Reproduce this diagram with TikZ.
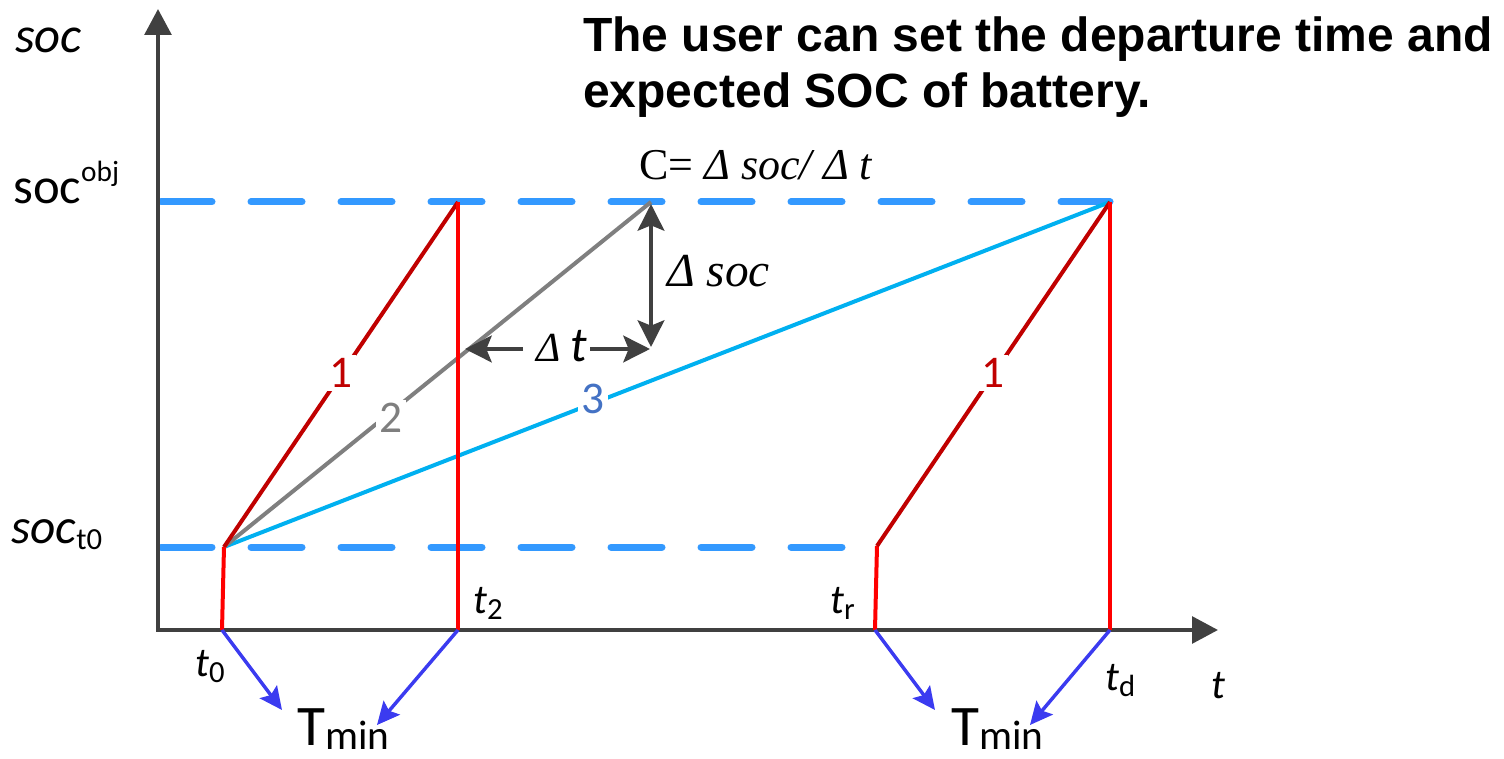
\documentclass[tikz,border=0pt]{standalone}
\usepackage{fontspec}
\setmainfont{Carlito}
\newfontfamily\tnr{Liberation Serif}
\newfontfamily\arialf{Liberation Sans}
\usetikzlibrary{arrows.meta}
\definecolor{axisgray}{HTML}{404040}
\definecolor{dashblue}{HTML}{3399FF}
\definecolor{darkred}{HTML}{C00000}
\definecolor{brightred}{HTML}{FF0000}
\definecolor{midgray}{HTML}{7F7F7F}
\definecolor{cyanline}{HTML}{00B0F0}
\definecolor{numblue}{HTML}{4472C4}
\definecolor{arrowblue}{HTML}{3B3BF0}
\newcommand\fsz[1]{\fontsize{#1}{#1}\selectfont}
\newcommand\tlab[1]{{\itshape t}\raisebox{-5pt}{\fsz{23pt}#1}}
\newcommand\tminlab{T\raisebox{-3pt}{\fsz{31pt}min}}
\begin{document}
\begin{tikzpicture}[x=0.75pt,y=-0.75pt,
  axis/.style={draw=axisgray,line width=3pt,line join=miter,{Triangle[length=19.5pt,width=20pt]}-{Triangle[length=19.5pt,width=20pt]}},
  guide/.style={draw=dashblue,line width=5.25pt,line cap=round,dash pattern=on 38.25pt off 29.25pt},
  ramp/.style={line width=3pt,line join=round},
  bluearrow/.style={draw=arrowblue,line width=2.6pt,-{Stealth[length=17pt,width=16pt,inset=3pt]}},
  dimtip/.style={draw=axisgray,line width=3pt,-{Stealth[length=20pt,width=20pt,inset=4pt]}},
  dimboth/.style={draw=axisgray,line width=3pt,{Stealth[length=20pt,width=20pt,inset=4pt]}-{Stealth[length=20pt,width=20pt,inset=4pt]}},
  lbl/.style={inner sep=0pt,anchor=base west},
  num/.style={fill=white,inner sep=2.5pt,font=\fsz{34pt}},
  tfont/.style={font=\fsz{31pt}},
]
\useasboundingbox (0,0) rectangle (1504,759);
% coordinates
\coordinate (O) at (158,630);
\coordinate (Ytop) at (158,9);
\coordinate (Xend) at (1218,630);
\coordinate (T0b) at (222,630);
\coordinate (A) at (224,547);
\coordinate (T2b) at (458,630);
\coordinate (T2t) at (458,202);
\coordinate (P2) at (651,202);
\coordinate (Trb) at (875,630);
\coordinate (Trt) at (877,546);
\coordinate (Tdb) at (1110,630);
\coordinate (Tdt) at (1110,202);
\coordinate (G1s) at (161,202);
\coordinate (G2s) at (161,547);
\coordinate (G2e) at (850,547);
% guides
\draw[guide] (G1s) -- (Tdt);
\draw[guide] (G2s) -- (G2e);
% axes
\draw[axis] (Ytop) -- (O) -- (Xend);
% ramps
\draw[ramp,draw=cyanline] (A) -- (Tdt);
\draw[ramp,draw=midgray] (A) -- (P2);
\draw[ramp,draw=darkred] (A) -- (T2t);
\draw[ramp,draw=brightred] (T0b) -- (A);
\draw[ramp,draw=brightred] (T2b) -- (T2t);
\draw[ramp,draw=brightred] (Trb) -- (Trt);
\draw[ramp,draw=darkred] (Trt) -- (Tdt);
\draw[ramp,draw=brightred] (Tdb) -- (Tdt);
% numbers
\node[num,text=darkred] (n1a) at (341,373) {1};
\node[num,text=midgray] (n2) at (391,418) {2};
\node[num,text=numblue] (n3) at (593,399) {3};
\node[num,text=darkred] (n1b) at (993,373) {1};
% delta arrows
\coordinate (DtL) at (465,349);
\coordinate (DtR) at (650,349);
\coordinate (DtA) at (523,349);
\coordinate (DtB) at (590,349);
\coordinate (DsT) at (651,204);
\coordinate (DsB) at (651,347);
\node[lbl] (dt) at (536,362) {{\tnr\itshape\fsz{31pt}Δ }{\itshape\fsz{37pt}t}};
\draw[dimtip] (DtA) -- (DtL);
\draw[dimtip] (DtB) -- (DtR);
\draw[dimboth] (DsB) -- (DsT);
\node[lbl,font=\tnr\itshape\fsz{35.5pt}] (ds) at (667,287) {Δ soc};
\node[lbl,font=\tnr\fsz{33pt}] (ceq) at (639,180) {C= {\itshape Δ soc/ Δ t}};
% axis labels
\node[lbl,font=\fsz{38pt}] (socax) at (15,53) {\itshape soc};
\node[lbl,font=\fsz{38pt}] (socobj) at (13,204) {soc\raisebox{17pt}{\fsz{22pt}obj}};
\node[lbl,font=\fsz{37pt}] (soct0) at (11,543) {{\itshape soc}\raisebox{-4.5pt}{\fsz{23pt}t0}};
\node[lbl,tfont] (t0) at (195,676) {\tlab{0}};
\node[lbl,tfont] (t2) at (473,613) {\tlab{2}};
\node[lbl,tfont] (tr) at (830,613) {\tlab{r}};
\node[lbl,tfont] (td) at (1105,690) {\tlab{d}};
\node[lbl,tfont] (tax) at (1211,698) {\itshape t};
\node[lbl,font=\fsz{43pt}] (tm1) at (297,745) {\tminlab};
\node[lbl,font=\fsz{43pt}] (tm2) at (951,745) {\tminlab};
% blue arrows
\coordinate (B1) at (282,710);
\coordinate (B2) at (377,725);
\coordinate (B3) at (935,710);
\coordinate (B4) at (1030,725);
\draw[bluearrow] (T0b) -- (B1);
\draw[bluearrow] (T2b) -- (B2);
\draw[bluearrow] (Trb) -- (B3);
\draw[bluearrow] (Tdb) -- (B4);
% title
\node[lbl,font=\arialf\bfseries\fsz{36pt}] (title1) at (583,52) {The user can set the departure time and};
\node[lbl,font=\arialf\bfseries\fsz{36pt}] (title2) at (583,108) {expected SOC of battery.};
\end{tikzpicture}
\end{document}
